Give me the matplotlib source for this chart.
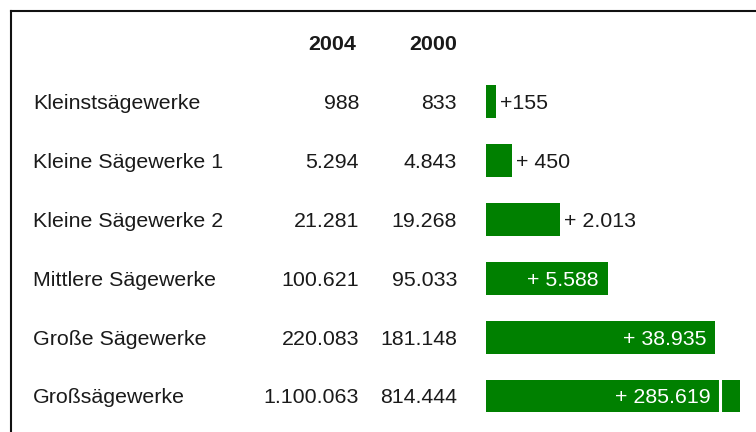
import numpy as np
import matplotlib
matplotlib.use("Agg")
import matplotlib.pyplot as plt
from matplotlib.transforms import blended_transform_factory
from matplotlib.lines import Line2D

# --- data -------------------------------------------------------------
categories = [
    "Kleinstsägewerke",
    "Kleine Sägewerke 1",
    "Kleine Sägewerke 2",
    "Mittlere Sägewerke",
    "Große Sägewerke",
    "Großsägewerke",
]
years = ["2004", "2000"]
values_2004 = [988, 5294, 21281, 100621, 220083, 1100063]
values_2000 = [833, 4843, 19268, 95033, 181148, 814444]
increase = [155, 450, 2013, 5588, 38935, 285619]
increase_labels = ["+155", "+ 450", "+ 2.013", "+ 5.588", "+ 38.935", "+ 285.619"]

# --- style ------------------------------------------------------------
W, H, DPI = 756, 432, 100
GREEN = "#008000"
TEXT = "#1a1a1a"
FONT = "Liberation Sans"
FS = 15.4
VA = "center_baseline"

plt.rcParams["font.family"] = [FONT, "DejaVu Sans"]


def de_format(v):
    return f"{v:,}".replace(",", ".")


fig = plt.figure(figsize=(W / DPI, H / DPI), dpi=DPI)
fig.patch.set_facecolor("white")

# bar panel: compressed (log-like) scale so small and large changes both show
ax = fig.add_axes([486 / W, 0.0, (740 - 486) / W, 1.0])
c = 800.0
ax.set_xscale("function", functions=(lambda v: np.log10(1 + np.maximum(v, 0) / c),
                                     lambda u: c * (10 ** u - 1)))
ax.set_xlim(0, 60000)
pitch = 58.9
top_row = 101.5
ax.set_ylim((H - top_row) / pitch, -top_row / pitch)
ax.axis("off")

rows = np.arange(len(categories))
ax.barh(rows, increase, height=0.56, color=GREEN, left=0, clip_on=True)

# axis break on the truncated bar
break_frac = (720 - 486) / (740 - 486)
last = len(categories) - 1
ax.plot([break_frac, break_frac], [last - 0.3, last + 0.3], color="white", lw=2.2,
        transform=blended_transform_factory(ax.transAxes, ax.transData), zorder=3)

# value labels on the bars (outside for short bars, inside for long ones)
fig.canvas.draw()
px_tr = blended_transform_factory(fig.dpi_scale_trans, ax.transData)
ax_right = ax.transAxes.transform((break_frac, 0))[0]
for i, (v, lab) in enumerate(zip(increase, increase_labels)):
    disp_end = ax.transData.transform((v, i))[0]
    if v < 5000:
        ax.text((disp_end + 4) / DPI, i, lab, transform=px_tr, ha="left", va=VA,
                fontsize=FS, color=TEXT)
    else:
        ax.text((min(disp_end, ax_right) - 9) / DPI, i, lab, transform=px_tr,
                ha="right", va=VA, fontsize=FS, color="white", zorder=4)

# table columns
tr = blended_transform_factory(fig.transFigure, ax.transData)
for i, (cat, a, b) in enumerate(zip(categories, values_2004, values_2000)):
    fig.text(33 / W, i, cat, transform=tr, ha="left", va=VA, fontsize=FS, color=TEXT)
    fig.text(359 / W, i, de_format(a), transform=tr, ha="right", va=VA, fontsize=FS, color=TEXT)
    fig.text(457 / W, i, de_format(b), transform=tr, ha="right", va=VA, fontsize=FS, color=TEXT)

fig.text(356 / W, -1, years[0], transform=tr, ha="right", va=VA, fontsize=FS,
         fontweight="bold", color=TEXT)
fig.text(457 / W, -1, years[1], transform=tr, ha="right", va=VA, fontsize=FS,
         fontweight="bold", color=TEXT)

# frame lines (top and left)
fig.add_artist(Line2D([10.5 / W, 1.0], [1 - 10.5 / H, 1 - 10.5 / H], transform=fig.transFigure,
                      color="#111111", lw=1.5))
fig.add_artist(Line2D([10.5 / W, 10.5 / W], [0.0, 1 - 10.5 / H], transform=fig.transFigure,
                      color="#111111", lw=1.5))

fig.savefig("out.png", dpi=DPI, facecolor="white")
